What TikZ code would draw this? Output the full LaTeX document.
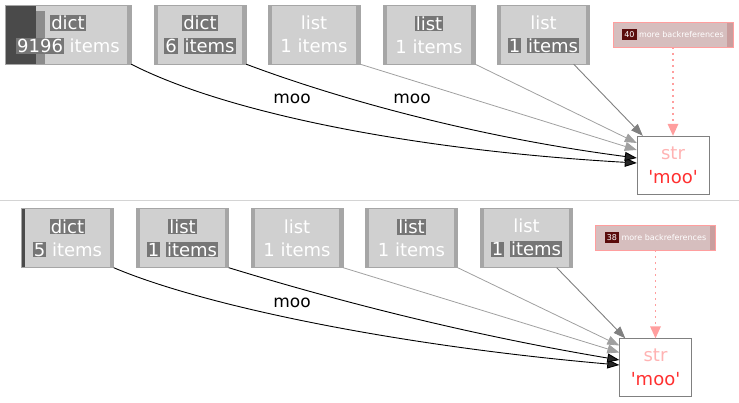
\documentclass[tikz,border=0pt]{standalone}
\usepackage{fontspec}
\setmainfont{DejaVu Sans}
\usepackage{xcolor}
\usetikzlibrary{arrows.meta}
\definecolor{boxgray}{HTML}{D0D0D0}
\definecolor{stripegray}{HTML}{A6A6A6}
\definecolor{hlgray}{HTML}{767676}
\definecolor{darkgray}{HTML}{4A4A4A}
\definecolor{midgray}{HTML}{8C8C8C}
\definecolor{lightedge}{HTML}{A0A0A0}
\definecolor{edgegray}{HTML}{808080}
\definecolor{sepgray}{HTML}{D4D4D4}
\definecolor{refred}{HTML}{FF9E9E}
\definecolor{reffill}{HTML}{D6BEBE}
\definecolor{refstripe}{HTML}{C99E9E}
\definecolor{darkred}{HTML}{5A0C0C}
\definecolor{strpink}{HTML}{FFB3B3}
\definecolor{moored}{HTML}{FF3030}
\newcommand{\hlbox}[1]{\colorbox{hlgray}{#1}}
\setlength{\fboxsep}{1pt}

\tikzset{
  objbox/.style={draw=stripegray, fill=boxgray, minimum width=92pt, minimum height=59pt,
    inner sep=0pt, align=center, text=white, font=\fontsize{18}{23}\selectfont,
    path picture={
      \fill[stripegray] (path picture bounding box.north west) rectangle ([xshift=3.5pt]path picture bounding box.south west);
      \fill[stripegray] ([xshift=-4pt]path picture bounding box.north east) rectangle (path picture bounding box.south east);}},
  bigbox/.style={objbox, minimum width=126pt,
    path picture={
      \fill[darkgray] (path picture bounding box.north west) rectangle ([xshift=31pt]path picture bounding box.south west);
      \fill[midgray] ([xshift=31pt,yshift=-6pt]path picture bounding box.north west) rectangle ([xshift=40pt]path picture bounding box.south west);
      \fill[stripegray] ([xshift=-4pt]path picture bounding box.north east) rectangle (path picture bounding box.south east);}},
  darkedge/.style={objbox,
    path picture={
      \fill[darkgray] (path picture bounding box.north west) rectangle ([xshift=3pt]path picture bounding box.south west);
      \fill[stripegray] ([xshift=-4pt]path picture bounding box.north east) rectangle (path picture bounding box.south east);}},
  refbox/.style={draw=refred, fill=reffill, minimum width=120pt, minimum height=25pt,
    inner sep=0pt, text=white, font=\fontsize{8}{10}\selectfont,
    path picture={
      \fill[refstripe] ([xshift=-6pt]path picture bounding box.north east) rectangle (path picture bounding box.south east);}},
  strbox/.style={draw=edgegray, fill=white, minimum width=72pt, minimum height=58pt,
    inner sep=0pt, align=center, font=\fontsize{18}{24}\selectfont},
  lbl/.style={font=\fontsize{17}{20}\selectfont, inner sep=0pt},
  strong/.style={draw=black, line width=0.9pt, -{Triangle[length=12pt,width=9pt,fill=black!85]}},
  weak/.style={draw=lightedge, line width=0.8pt, -{Triangle[length=12pt,width=9pt]}},
  last/.style={draw=edgegray, line width=0.9pt, -{Triangle[length=12pt,width=9pt]}},
  backref/.style={draw=refred, dash pattern=on 2pt off 4pt, line width=1.2pt,
    -{Triangle[length=12pt,width=11pt,fill=refred,line width=0pt]}}
}

\begin{document}
\begin{tikzpicture}[x=1pt,y=-1pt]
\useasboundingbox (0,0) rectangle (739,403);

% top graph
\node[bigbox] (t1) at (68,34.5) {\hlbox{dict}\\\hlbox{9196} items};
\node[objbox] (t2) at (200,34.5) {\hlbox{dict}\\\hlbox{6} \hlbox{items}};
\node[objbox] (t3) at (314,34.5) {list\\1 items};
\node[objbox] (t4) at (429,34.5) {\hlbox{list}\\1 items};
\node[objbox] (t5) at (543.5,34.5) {list\\\hlbox{1} \hlbox{items}};
\node[refbox] (tref) at (673,34.5) {{\fboxsep=2pt\colorbox{darkred}{40}} more backreferences};
\node[strbox] (tstr) at (673,165) {{\color{strpink}str}\\{\color{moored}\textquotesingle moo\textquotesingle}};
\node[lbl] (tm1) at (292,99) {moo};
\node[lbl] (tm2) at (412,99) {moo};
\draw[strong] (t1.south east) .. controls +(94,48) and +(-227,-13) .. ([yshift=2pt]tstr.west);
\draw[strong] (t2.south east) .. controls +(74,28) and +(-177,-23) .. ([yshift=7pt]tstr.west);
\draw[weak] (t3.south east) -- ([yshift=15pt]tstr.west);
\draw[weak] (t4.south east) -- ([yshift=22pt]tstr.west);
\draw[last] ([xshift=-16pt]t5.south east) -- ([xshift=6pt]tstr.north west);
\draw[backref] (tref) -- (tstr);

\draw[sepgray, line width=1pt] (0,201) -- (739,201);

% bottom graph
\node[darkedge] (b1) at (67.5,238) {\hlbox{dict}\\\hlbox{5} items};
\node[objbox] (b2) at (182.5,238) {\hlbox{list}\\\hlbox{1} \hlbox{items}};
\node[objbox] (b3) at (297,238) {list\\1 items};
\node[objbox] (b4) at (411.5,238) {\hlbox{list}\\1 items};
\node[objbox] (b5) at (526.5,238) {list\\\hlbox{1} \hlbox{items}};
\node[refbox] (bref) at (655.5,237.5) {{\fboxsep=2pt\colorbox{darkred}{38}} more backreferences};
\node[strbox] (bstr) at (655.5,367.5) {{\color{strpink}str}\\{\color{moored}\textquotesingle moo\textquotesingle}};
\node[lbl] (bm1) at (292,303) {moo};
\draw[strong] (b1.south east) .. controls +(87,37) and +(-229,-20) .. ([yshift=2.5pt]bstr.west);
\draw[strong] (b2.south east) .. controls +(72,22) and +(-179,-30) .. ([yshift=7.5pt]bstr.west);
\draw[weak] (b3.south east) -- ([yshift=15pt]bstr.west);
\draw[weak] (b4.south east) -- ([yshift=22pt]bstr.west);
\draw[last] ([xshift=-16pt]b5.south east) -- ([xshift=6pt]bstr.north west);
\draw[backref] (bref) -- (bstr);
\end{tikzpicture}
\end{document}
